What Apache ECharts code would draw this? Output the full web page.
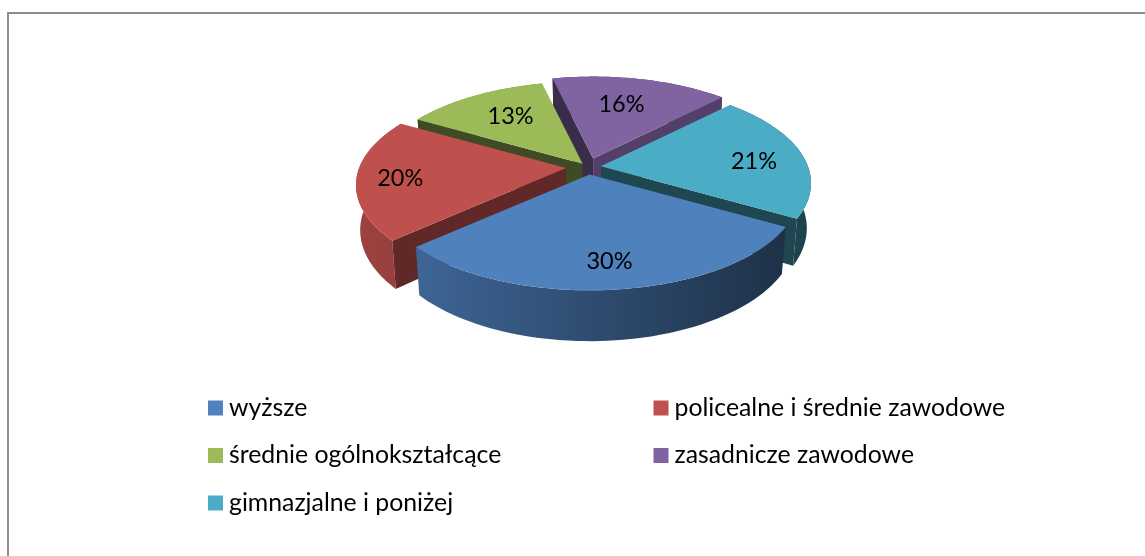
<!DOCTYPE html>
<html>
<head>
<meta charset="utf-8">
<style>html,body{margin:0;padding:0;background:#fff}#c{width:1145px;height:556px}</style>
<script src="https://cdn.jsdelivr.net/npm/echarts@6/dist/echarts.min.js"></script>
</head>
<body>
<div id="c"></div>
<script>
// data
const categories = ['wyższe','policealne i średnie zawodowe','średnie ogólnokształcące','zasadnicze zawodowe','gimnazjalne i poniżej'];
const shares = [30,20,13,16,21];
// style
const topColors = ['#4f81bd','#c0504d','#9bbb59','#8064a2','#4bacc6'];
const explode = [16,22,9,19,13];
const labelReach = [0.76,0.79,0.69,0.68,0.75];
const labelNudge = [0,-2,1.5,-2,4];
const wallShade = [[0.4,0.4],[0.5,0.56],[0.4,0.4],[0.45,0.64],[0.5,0.41]];
const leftColumn = [0,2,4], rightColumn = [1,3];

const view = {cx:588, cy:167, R:207, flat:96/207, persp:0.172, depth:44, squeeze:0.98, startDeg:30};
const total = shares.reduce((a,b)=>a+b,0);
const rad = d => d*Math.PI/180;
function proj(deg, r){
  const c=Math.cos(rad(deg)), s=Math.sin(rad(deg)), w=1/(1-view.persp*s*r);
  return [view.R*c*r*w, view.R*view.flat*s*r*w, w];
}
function shade(hex,f){
  const n=parseInt(hex.slice(1),16);
  const ch=[n>>16&255,n>>8&255,n&255].map(v=>Math.round(v*f));
  return 'rgb('+ch.join(',')+')';
}
const spans=[]; let acc=view.startDeg;
shares.forEach(v=>{const a=acc,b=acc+v/total*360;spans.push([a,b]);acc=b;});
const rimF = deg => 0.6-0.25*Math.cos(rad(deg));
function wallVisible(edge, mid){
  const dx=Math.cos(rad(edge)), dy=Math.sin(rad(edge));
  const cross=dx*Math.sin(rad(mid))-dy*Math.cos(rad(mid));
  return dx*cross<0;
}

function render(i){
  return function(params, api){
    const v=api.value(0), [a,b]=spans[i], mid=(a+b)/2;
    const ax=view.cx+explode[i]*Math.cos(rad(mid));
    const ay=view.cy+explode[i]*view.flat*Math.sin(rad(mid));
    const T=[],Bt=[];
    for(let k=0;k<=60;k++){
      const d=a+(b-a)*k/60,p=proj(d,1);
      T.push([ax+p[0],ay+p[1]]);
      Bt.push([ax+p[0]*view.squeeze,ay+p[1]*view.squeeze+view.depth*p[2]]);
    }
    const apexB=[ax,ay+view.depth];
    const col=topColors[i];
    const wall=(top,bot,f)=>({type:'polygon',shape:{points:[[ax,ay],top,bot,apexB]},style:{fill:shade(col,f)}});
    const lo=Math.cos(rad(a))<Math.cos(rad(b))?a:b, hi=lo===a?b:a;
    const kids=[
      {type:'polygon',shape:{points:T.concat(Bt.slice().reverse())},style:{fill:{type:'linear',x:0,y:0,x2:1,y2:0,colorStops:[
        {offset:0,color:shade(col,rimF(lo))},{offset:1,color:shade(col,rimF(hi))}]}}}
    ];
    if(wallVisible(a,mid)) kids.push(wall(T[0],Bt[0],wallShade[i][0]));
    if(wallVisible(b,mid)) kids.push(wall(T[60],Bt[60],wallShade[i][1]));
    kids.push({type:'polygon',shape:{points:[[ax,ay]].concat(T)},style:{fill:col}});
    const lp=proj(mid+labelNudge[i],1);
    kids.push({type:'text',style:{text:v+'%',x:ax+lp[0]*labelReach[i],y:ay+lp[1]*labelReach[i],
      fill:'#000',font:'23.5px Lato',align:'center',verticalAlign:'middle'}});
    return {type:'group',children:kids};
  };
}
const depthRank=spans.map((s,i)=>[Math.sin(rad((s[0]+s[1])/2)),i]).sort((p,q)=>p[0]-q[0]).map(p=>p[1]);
const series=categories.map((name,i)=>({
  type:'custom',name,coordinateSystem:'none',silent:true,animation:false,
  z:2+depthRank.indexOf(i),itemStyle:{color:topColors[i]},
  data:[[shares[i]]],renderItem:render(i)
}));
const legendBase={orient:'vertical',icon:'rect',itemWidth:15,itemHeight:15,itemGap:22.5,selectedMode:false,
  textStyle:{fontFamily:'Lato',fontSize:24.8,color:'#000',lineHeight:15,padding:[0,0,0,1]},padding:0};
const chart=echarts.init(document.getElementById('c'),null,{renderer:'canvas'});
chart.setOption({
  animation:false,backgroundColor:'#fff',
  legend:[
    Object.assign({},legendBase,{left:208,top:395.5,data:leftColumn.map(i=>categories[i])}),
    Object.assign({},legendBase,{left:653.5,top:395.5,data:rightColumn.map(i=>categories[i])})
  ],
  graphic:[{type:'polyline',silent:true,shape:{points:[[8,556],[8,13],[1145,13]]},style:{stroke:'#8c8c8c',lineWidth:2,fill:null}}],
  series
});
</script>
</body>
</html>
